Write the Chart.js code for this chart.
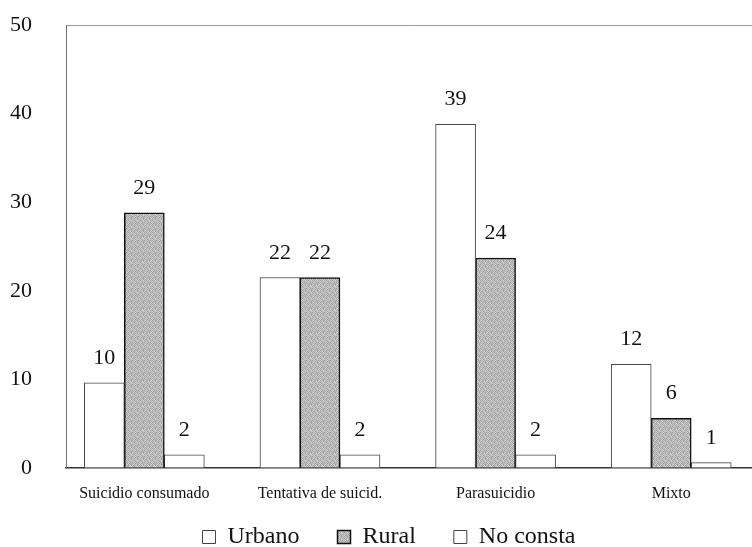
<!DOCTYPE html>
<html>
<head>
<meta charset="utf-8">
<script src="https://cdn.jsdelivr.net/npm/chart.js@4/dist/chart.umd.min.js"></script>
<style>
  html, body { margin: 0; padding: 0; overflow: hidden; background: #fff; }
  #wrap { position: relative; width: 752px; height: 547px; }
</style>
</head>
<body>
<div id="wrap"><canvas id="grafico"></canvas></div>
<script>
// Datos
const categorias = ['Suicidio consumado', 'Tentativa de suicid.', 'Parasuicidio', 'Mixto'];
const urbano = [9.6, 21.5, 38.8, 11.7];
const rural = [28.8, 21.5, 23.7, 5.6];
const noConsta = [1.5, 1.5, 1.5, 0.6];

const fuente = '"Liberation Serif", "Times New Roman", serif';

// Trama punteada gris para "Rural"
function crearTrama() {
    const c = document.createElement('canvas');
    c.width = 6;
    c.height = 6;
    const g = c.getContext('2d');
    const tonos = [
        '#9a9a9a', '#c8c8c8', '#b0b0b0', '#d4d4d4', '#a4a4a4', '#bcbcbc',
        '#c4c4c4', '#a8a8a8', '#d0d0d0', '#989898', '#c0c0c0', '#acacac',
        '#b4b4b4', '#d8d8d8', '#a0a0a0', '#c6c6c6', '#b8b8b8', '#9e9e9e',
        '#cccccc', '#a2a2a2', '#bebebe', '#b2b2b2', '#d2d2d2', '#a6a6a6',
        '#aaaaaa', '#c2c2c2', '#9c9c9c', '#cacaca', '#aeaeae', '#d6d6d6',
        '#c0c0c0', '#b6b6b6', '#cecece', '#a0a0a0', '#bababa', '#c8c8c8'
    ];
    for (let i = 0; i < 36; i++) {
        g.fillStyle = tonos[i];
        g.fillRect(i % 6, Math.floor(i / 6), 1, 1);
    }
    return g.createPattern(c, 'repeat');
}

const puntos = (valores) => valores.map((v, i) => ({ x: i, y: v }));

// Etiquetas de valor encima de cada barra
const etiquetasValor = {
    id: 'etiquetasValor',
    afterDatasetsDraw(chart) {
        const ctx = chart.ctx;
        ctx.save();
        ctx.font = '22px ' + fuente;
        ctx.fillStyle = '#111';
        ctx.textAlign = 'center';
        ctx.textBaseline = 'alphabetic';
        chart.data.datasets.forEach((ds, di) => {
            chart.getDatasetMeta(di).data.forEach((bar, i) => {
                ctx.fillText(String(Math.round(ds.data[i].y)), bar.x, bar.y - 19);
            });
        });
        ctx.restore();
    }
};

// Recoloca la leyenda como en el original
const moverLeyenda = {
    id: 'moverLeyenda',
    afterLayout(chart) {
        const lg = chart.legend;
        lg.top = 487;
        lg.bottom = 547;
        lg.height = 60;
        lg.left += 13;
        lg.right += 13;
    }
};

const ctx = document.getElementById('grafico').getContext('2d');

new Chart(ctx, {
    type: 'bar',
    data: {
        datasets: [{
            label: 'Urbano',
            data: puntos(urbano),
            backgroundColor: '#ffffff',
            borderColor: '#444444',
            borderWidth: 1,
        }, {
            label: 'Rural',
            data: puntos(rural),
            backgroundColor: crearTrama(),
            borderColor: '#111111',
            borderWidth: 1.5,
        }, {
            label: 'No consta',
            data: puntos(noConsta),
            backgroundColor: '#ffffff',
            borderColor: '#444444',
            borderWidth: 1,
        }],
    },
    options: {
        responsive: true,
        maintainAspectRatio: false,
        animation: false,
        barThickness: 40,
        layout: {
            padding: { top: 25, left: 0, right: 0, bottom: 0 }
        },
        plugins: {
            tooltip: { enabled: false },
            legend: {
                position: 'bottom',
                maxHeight: 40,
                labels: {
                    font: { family: fuente, size: 24 },
                    color: '#111',
                    boxWidth: 13,
                    boxHeight: 13,
                    padding: 38,
                },
            },
        },
        scales: {
            x: {
                type: 'linear',
                min: -0.446,
                max: 3.46,
                offset: false,
                grid: { display: false, offset: false },
                border: { color: '#333', width: 1.5 },
                ticks: {
                    stepSize: 1,
                    includeBounds: false,
                    autoSkip: false,
                    maxRotation: 0,
                    padding: 8,
                    font: { family: fuente, size: 16 },
                    color: '#111',
                    callback: (v) => categorias[v] ?? '',
                },
                afterFit: (scale) => { scale.height = 39; },
            },
            y: {
                min: 0,
                max: 50,
                grid: {
                    drawTicks: true,
                    tickLength: 30,
                    tickColor: 'rgba(0,0,0,0)',
                    color: (c) => c.tick && c.tick.value === 50 ? '#9a9a9a' : 'rgba(0,0,0,0)',
                },
                border: { color: '#777', width: 1 },
                ticks: {
                    stepSize: 10,
                    padding: 4,
                    font: { family: fuente, size: 22 },
                    color: '#111',
                },
                afterFit: (scale) => { scale.width = 66; },
            },
        },
    },
    plugins: [etiquetasValor, moverLeyenda],
});
</script>
</body>
</html>
